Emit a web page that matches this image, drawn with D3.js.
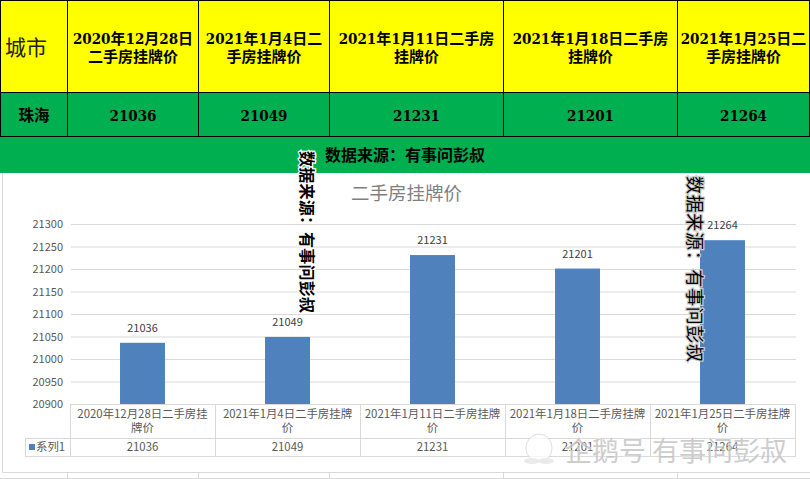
<!DOCTYPE html>
<html>
<head>
<meta charset="utf-8">
<style>
html, body { margin: 0; padding: 0; background: #fff; overflow: hidden; }
svg { display: block; }
</style>
<script src="https://cdn.jsdelivr.net/npm/d3@7"></script>
</head>
<body>
<svg id="chart" width="810" height="479"></svg>
<script>
"use strict";

var categories = [
    "2020年12月28日二手房挂牌价",
    "2021年1月4日二手房挂牌价",
    "2021年1月11日二手房挂牌价",
    "2021年1月18日二手房挂牌价",
    "2021年1月25日二手房挂牌价"
];
var values = [21036, 21049, 21231, 21201, 21264];
var yTicks = [20900, 20950, 21000, 21050, 21100, 21150, 21200, 21250, 21300];
var cityHeader = "城市";
var cityName = "珠海";
var seriesName = "系列1";
var chartTitle = "二手房挂牌价";
var sourceText = "数据来源：有事问彭叔";
var watermarkText = "企鹅号 有事问彭叔";
// where the labels wrap, as character counts
var headerBreaks = [11, 10, 13, 13, 11];
var axisLabelBreaks = [15, 14, 15, 15, 15];

var SERIF = "'DejaVu Serif Condensed','DejaVu Serif','Noto Sans CJK SC',serif";
var SANS = "'Noto Sans CJK SC','Noto Sans',sans-serif";
var TEXT_GREY = "#595959";
var LINE_GREY = "#d9d9d9";
var BAR_BLUE = "#4f81bd";

var svg = d3.select("#chart");

function addLines(parent, x, y, lines, lineHeight) {
    var text = parent.append("text").attr("x", x).attr("y", y).attr("text-anchor", "middle");
    lines.forEach(function (line, i) {
        text.append("tspan").attr("x", x).attr("dy", i ? lineHeight : 0).text(line);
    });
    return text;
}

function split(label, at) {
    return [label.slice(0, at), label.slice(at)];
}

// Spreadsheet table at the top
var colEdges = [0.5, 67.5, 198.5, 329.5, 503.5, 677.5, 809.5];
var rowEdges = [0.5, 92.5, 136.5];
var sheetTable = svg.append("g");

sheetTable.append("rect").attr("x", 0).attr("y", 0).attr("width", 810).attr("height", 92.5).attr("fill", "#ffff00");
sheetTable.append("rect").attr("x", 0).attr("y", 92.5).attr("width", 810).attr("height", 80.5).attr("fill", "#00b050");

colEdges.forEach(function (x) {
    sheetTable.append("line").attr("x1", x).attr("x2", x).attr("y1", 0).attr("y2", 136.5)
        .attr("stroke", "#000").attr("stroke-width", 1);
});
rowEdges.forEach(function (y) {
    sheetTable.append("line").attr("x1", 0).attr("x2", 810).attr("y1", y).attr("y2", y)
        .attr("stroke", "#000").attr("stroke-width", 1);
});

sheetTable.append("text").attr("x", 26).attr("y", 55).attr("text-anchor", "middle")
    .attr("font-family", SERIF).attr("font-size", 21).attr("font-weight", 400).attr("fill", "#222")
    .text(cityHeader);
sheetTable.append("text").attr("x", 34).attr("y", 121).attr("text-anchor", "middle")
    .attr("font-family", SERIF).attr("font-size", 15.5).attr("font-weight", 700).attr("fill", "#000")
    .text(cityName);

categories.forEach(function (label, i) {
    var cx = (colEdges[i + 1] + colEdges[i + 2]) / 2;
    addLines(sheetTable, cx, 44, split(label, headerBreaks[i]), 18)
        .attr("font-family", SERIF).attr("font-size", 15).attr("font-weight", 700).attr("fill", "#000");
    sheetTable.append("text").attr("x", cx).attr("y", 121).attr("text-anchor", "middle")
        .attr("font-family", SERIF).attr("font-size", 15).attr("font-weight", 700).attr("fill", "#000")
        .text(values[i]);
});

sheetTable.append("text").attr("x", 405).attr("y", 161).attr("text-anchor", "middle")
    .attr("font-family", SERIF).attr("font-size", 16).attr("font-weight", 700).attr("fill", "#000")
    .text(sourceText);

// Chart area, with the sheet's faint cell lines around it
var sheet = svg.append("g").attr("stroke", LINE_GREY).attr("fill", "none");
sheet.append("path").attr("d", "M2.5,173V472.5H810");
sheet.append("path").attr("d", "M0,478.5H810");
colEdges.slice(1, 6).forEach(function (x) {
    sheet.append("line").attr("x1", x).attr("x2", x).attr("y1", 473).attr("y2", 479);
});

var x = d3.scaleBand().domain(categories).range([70, 795]).paddingInner(0.69).paddingOuter(0.345);
var y = d3.scaleLinear().domain([20900, 21300]).range([404, 224]);

var yAxis = d3.axisLeft(y).tickValues(yTicks).tickFormat(d3.format("d")).tickSize(-725).tickPadding(8);
var yAxisG = svg.append("g").attr("transform", "translate(71,0)").call(yAxis);
yAxisG.select(".domain").remove();
yAxisG.selectAll("line").attr("stroke", LINE_GREY);
yAxisG.selectAll("text").attr("font-family", SANS).attr("font-size", 11).attr("fill", TEXT_GREY);

svg.append("text").attr("x", 406.5).attr("y", 200).attr("text-anchor", "middle")
    .attr("font-family", SERIF).attr("font-size", 18.5).attr("fill", "#7f7f7f")
    .text(chartTitle);

svg.selectAll("rect.bar").data(values).enter().append("rect").attr("class", "bar")
    .attr("x", function (_, i) { return x(categories[i]); })
    .attr("y", function (d) { return y(d); })
    .attr("width", x.bandwidth())
    .attr("height", function (d) { return 404 - y(d); })
    .attr("fill", BAR_BLUE);

svg.selectAll("text.value").data(values).enter().append("text").attr("class", "value")
    .attr("x", function (_, i) { return x(categories[i]) + x.bandwidth() / 2; })
    .attr("y", function (d) { return y(d) - 11; })
    .attr("text-anchor", "middle")
    .attr("font-family", SANS).attr("font-size", 11).attr("fill", "#404040")
    .text(function (d) { return d; });

// Data table under the axis
var tableTop = 404, tableBottom = 456;
var band = 725 / categories.length;
var grid = svg.append("g").attr("stroke", LINE_GREY).attr("fill", "none");
grid.append("path").attr("d", "M71,404.5H796M25,438.5H796M25,456.5H796M25.5,438V456");
d3.range(categories.length + 1).forEach(function (i) {
    var gx = Math.round(71 + i * band) - 0.5;
    grid.append("line").attr("x1", gx).attr("x2", gx).attr("y1", tableTop).attr("y2", tableBottom);
});

categories.forEach(function (label, i) {
    var cx = 70 + (i + 0.5) * band;
    addLines(svg, cx, 418, split(label, axisLabelBreaks[i]), 14)
        .attr("font-family", SANS).attr("font-size", 11.4).attr("fill", TEXT_GREY);
    svg.append("text").attr("x", cx).attr("y", 451).attr("text-anchor", "middle")
        .attr("font-family", SANS).attr("font-size", 11.4).attr("fill", TEXT_GREY)
        .text(values[i]);
});
svg.append("rect").attr("x", 29).attr("y", 444).attr("width", 6).attr("height", 6).attr("fill", BAR_BLUE);
svg.append("text").attr("x", 36).attr("y", 451)
    .attr("font-family", SANS).attr("font-size", 11.4).attr("fill", TEXT_GREY)
    .text(seriesName);

// Rotated source stamps pasted over the chart
function stamp(cx, cy, size, weight, length, halo) {
    svg.append("text")
        .attr("transform", "translate(" + cx + "," + cy + ") rotate(90)")
        .attr("text-anchor", "middle").attr("dominant-baseline", "central")
        .attr("font-family", SERIF).attr("font-size", size).attr("font-weight", weight)
        .attr("textLength", length).attr("fill", "#000")
        .attr("stroke", halo).attr("stroke-width", 2.5).attr("paint-order", "stroke")
        .text(sourceText);
}
stamp(306, 232, 16, 700, 162, "#fff");
stamp(694, 269, 18, 400, 186, "#ccc");

// Watermark, bottom right
var mark = svg.append("g").attr("opacity", 0.75);
mark.append("ellipse").attr("cx", 539).attr("cy", 448).attr("rx", 13).attr("ry", 14)
    .attr("fill", "#fff").attr("stroke", "#d5d5d5");
mark.append("ellipse").attr("cx", 532).attr("cy", 461).attr("rx", 8).attr("ry", 3).attr("fill", "#e4e4e4");
mark.append("ellipse").attr("cx", 546).attr("cy", 461).attr("rx", 8).attr("ry", 3).attr("fill", "#e4e4e4");
mark.append("text").attr("x", 565).attr("y", 461)
    .attr("font-family", SANS).attr("font-size", 27).attr("fill", "#bdbdbd")
    .attr("stroke", "#fff").attr("stroke-width", 1).attr("paint-order", "stroke")
    .text(watermarkText);
</script>
</body>
</html>
